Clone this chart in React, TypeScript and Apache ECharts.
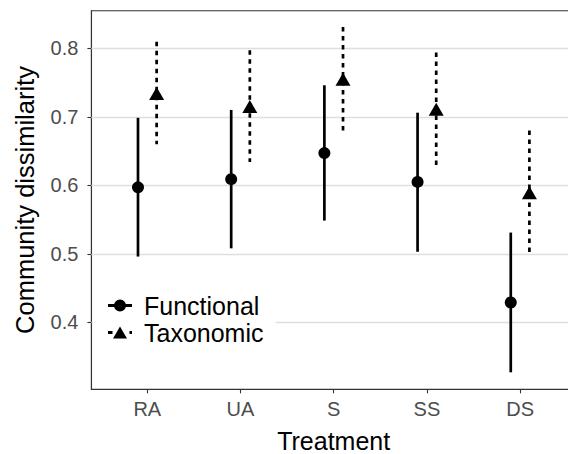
import React, { useEffect, useRef } from "react";
import * as echarts from "echarts";

const categories = ["RA", "UA", "S", "SS", "DS"];
const functionalMean = [0.597, 0.609, 0.647, 0.605, 0.429];
const functionalLow = [0.496, 0.508, 0.5485, 0.503, 0.327];
const functionalHigh = [0.6985, 0.71, 0.746, 0.706, 0.531];
const taxonomicMean = [0.734, 0.715, 0.755, 0.711, 0.589];
const taxonomicLow = [0.66, 0.634, 0.68, 0.628, 0.4985];
const taxonomicHigh = [0.8095, 0.797, 0.831, 0.794, 0.68];
const yTicks = [0.4, 0.5, 0.6, 0.7, 0.8];

const DODGE = 0.1;

const FUNC_ICON =
  "path://M0 4.6h6.5v2.8h-6.5z M6 6a6 6 0 1 1 12 0a6 6 0 1 1 -12 0z M17.5 4.6h6.5v2.8h-6.5z";
const TAXO_ICON =
  "path://M0 4.6h4.5v2.8h-4.5z M5 12L12 0L19 12z M21.5 4.6h2.5v2.8h-2.5z";

export default function App() {
  const ref = useRef<HTMLDivElement>(null);
  useEffect(() => {
    document.body.style.margin = "0";
    document.body.style.overflow = "hidden";
    const chart = echarts.init(ref.current!, null, { renderer: "svg" });
    const xs = categories.map((_, i) => i + 1);
    const funcPts = xs.map((x, i) => [x - DODGE, functionalMean[i]]);
    const taxoPts = xs.map((x, i) => [x + DODGE, taxonomicMean[i]]);
    const funcBars = xs.map((x, i) => [x - DODGE, functionalLow[i], functionalHigh[i]]);
    const taxoBars = xs.map((x, i) => [x + DODGE, taxonomicLow[i], taxonomicHigh[i]]);

    const errRender = (dashed: boolean) => (params: any, api: any) => {
      const x = api.value(0);
      const p1 = api.coord([x, api.value(1)]);
      const p2 = api.coord([x, api.value(2)]);
      return {
        type: "line",
        shape: { x1: p1[0], y1: p2[1], x2: p2[0], y2: p1[1] },
        style: {
          stroke: "#000",
          lineWidth: 2.7,
          lineDash: dashed ? [4.5, 4.5] : null,
        },
      };
    };

    const font = "'Liberation Sans', Arial, sans-serif";

    chart.setOption({
      animation: false,
      textStyle: { fontFamily: font },
      grid: {
        left: 91.4,
        top: 10.7,
        right: -8,
        bottom: 64.7,
        containLabel: false,
        outerBoundsMode: "none",
        show: true,
        borderColor: "#333",
        borderWidth: 1.1,
        backgroundColor: "transparent",
      },
      legend: {
        orient: "vertical",
        left: 93,
        top: 285,
        padding: [8, 12, 8, 15],
        backgroundColor: "#fff",
        itemWidth: 24,
        itemHeight: 12,
        itemGap: 2,
        selectedMode: false,
        z: 10,
        textStyle: {
          fontSize: 25,
          color: "#000",
          fontFamily: font,
          padding: [0, 0, 0, 7],
          lineHeight: 25,
        },
        data: [
          { name: "Functional", icon: FUNC_ICON, itemStyle: { color: "#000", opacity: 1 } },
          { name: "Taxonomic", icon: TAXO_ICON, itemStyle: { color: "#000", opacity: 1 } },
        ],
      },
      xAxis: {
        type: "value",
        min: 0.4,
        max: 5.6,
        name: "Treatment",
        nameLocation: "middle",
        nameGap: 41,
        nameTextStyle: { fontSize: 25, color: "#000", fontFamily: font, lineHeight: 22 },
        splitLine: { show: false },
        axisLine: { show: true, lineStyle: { color: "#333", width: 1.1 } },
        axisTick: {
          show: true,
          length: 4,
          lineStyle: { color: "#333", width: 1.1 },
          customValues: xs,
        },
        axisLabel: {
          fontSize: 20,
          color: "#4d4d4d",
          margin: 10,
          fontFamily: font,
          customValues: xs,
          formatter: (v: number) => categories[Math.round(v) - 1] ?? "",
        },
      },
      yAxis: {
        type: "value",
        min: 0.3022,
        max: 0.8549,
        name: "Community dissimilarity",
        nameLocation: "middle",
        nameGap: 53,
        nameTextStyle: { fontSize: 25.5, color: "#000", fontFamily: font },
        splitLine: { show: false },
        axisLine: { show: true, lineStyle: { color: "#333", width: 1.1 } },
        axisTick: {
          show: true,
          length: 4,
          lineStyle: { color: "#333", width: 1.1 },
          customValues: yTicks,
        },
        axisLabel: {
          fontSize: 20,
          color: "#4d4d4d",
          margin: 13,
          fontFamily: font,
          customValues: yTicks,
          formatter: (v: number) => v.toFixed(1),
        },
      },
      series: [
        {
          type: "line",
          name: "grid",
          data: [],
          z: 1,
          silent: true,
          markLine: {
            z: 1,
            silent: true,
            symbol: "none",
            label: { show: false },
            lineStyle: { color: "#dedede", width: 1.3, type: "solid" },
            data: yTicks.map((v) => ({ yAxis: v })),
          },
        },
        {
          type: "custom",
          name: "Functional",
          z: 3,
          renderItem: errRender(false),
          data: funcBars,
          encode: { x: 0, y: [1, 2] },
        },
        {
          type: "custom",
          name: "Taxonomic",
          z: 3,
          renderItem: errRender(true),
          data: taxoBars,
          encode: { x: 0, y: [1, 2] },
        },
        {
          type: "scatter",
          name: "Functional",
          z: 4,
          symbol: "circle",
          symbolSize: 12,
          itemStyle: { color: "#000", opacity: 1 },
          data: funcPts,
        },
        {
          type: "scatter",
          name: "Taxonomic",
          z: 4,
          symbol: "triangle",
          symbolSize: [15, 13],
          itemStyle: { color: "#000", opacity: 1 },
          data: taxoPts,
        },
      ],
    });
    return () => chart.dispose();
  }, []);
  return <div ref={ref} style={{ width: 568, height: 454 }} />;
}
